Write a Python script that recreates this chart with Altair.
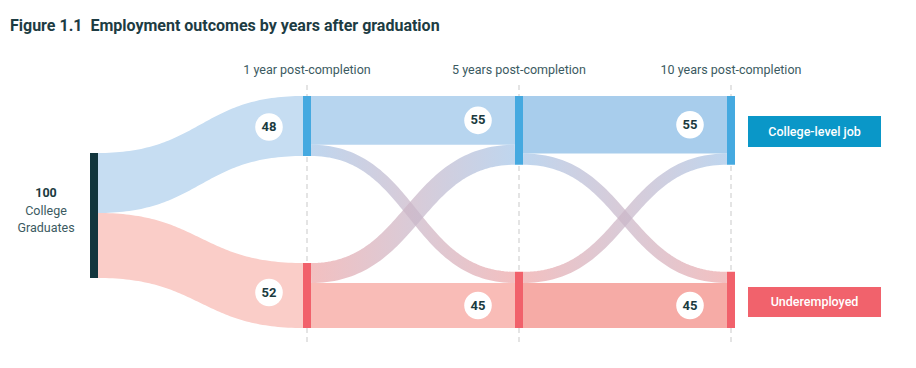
import altair as alt
import numpy as np
import pandas as pd

# ---------------- data ----------------
title_text = "Figure 1.1\u00a0\u00a0Employment outcomes by years after graduation"
source_lines = ["100", "College", "Graduates"]
source_total = 100
stages = ["1 year post-completion", "5 years post-completion", "10 years post-completion"]
categories = ["College-level job", "Underemployed"]
stage_totals = [[48, 52], [55, 45], [55, 45]]
# transitions[k][i][j]: graduates in category i at stage k who are in category j at stage k+1
transitions = [
    [[39, 9], [16, 36]],
    [[46, 9], [9, 36]],
]

# ---------------- layout / style ----------------
PX = 1.25            # pixels per graduate
SRC_X, SRC_W, SRC_TOP = 90, 8, 153
COL_X = [303, 515, 727]
NODE_W = 8
TOP, BOTTOM = 96, 328
LABEL_OFF = [34, 37, 37]

SRC_COLOR = "#12363d"
NODE_COLORS = ["#45a9e0", "#f1616b"]
SRC_BAND = ["#c6ddf2", "#facdc8"]
STAY_BAND = [["#b7d5ef", "#f9bcb7"], ["#a8cdec", "#f6aba6"]]
BOX_COLORS = ["#0a97c8", "#f1626c"]
BLUE_END, PINK_END = "#a6c6e8", "#eea7a8"
TEXT_DARK = "#1b3a40"
FONT = "Roboto"


def node_span(k, c):
    v = stage_totals[k][c] * PX
    return (TOP, TOP + v) if c == 0 else (BOTTOM - v, BOTTOM)


def shape(n=80):
    u = np.linspace(0, 1, n)
    xf = 1.5 * u * (1 - u) + u ** 3
    yf = 3 * u ** 2 - 2 * u ** 3
    return xf, yf


area_rows, line_rows = [], []


def add_area(name, x0, x1, a0, b0, a1, b1, color):
    xf, yf = shape()
    for xx, ff in zip(xf, yf):
        area_rows.append({"band": name, "x": x0 + (x1 - x0) * xx,
                          "y": a0 + (a1 - a0) * ff, "y2": b0 + (b1 - b0) * ff,
                          "c": color})


def add_line(name, direction, x0, x1, c0, c1, w):
    xf, yf = shape()
    for xx, ff in zip(xf, yf):
        line_rows.append({"band": name, "dir": direction, "x": x0 + (x1 - x0) * xx,
                          "y": c0 + (c1 - c0) * ff, "w": w})


# source -> stage 1
off = SRC_TOP
for c in range(2):
    v = stage_totals[0][c] * PX
    t0, t1 = node_span(0, c)
    add_area(f"s{c}", SRC_X + SRC_W, COL_X[0], off, off + v, t0, t1, SRC_BAND[c])
    off += v

# stage k -> k+1 : college node sends stay flow on top, under node sends cross flow on top
for k, mat in enumerate(transitions):
    x0, x1 = COL_X[k] + NODE_W, COL_X[k + 1]
    c_top = node_span(k, 0)[0]
    u_top = node_span(k, 1)[0]
    nc_top = node_span(k + 1, 0)[0]
    nu_top = node_span(k + 1, 1)[0]
    s0, x01, x10, s1 = mat[0][0] * PX, mat[0][1] * PX, mat[1][0] * PX, mat[1][1] * PX
    add_area(f"t{k}00", x0, x1, c_top, c_top + s0, nc_top, nc_top + s0, STAY_BAND[k][0])
    add_area(f"t{k}11", x0, x1, u_top + x10, u_top + x10 + s1, nu_top + x01, nu_top + x01 + s1,
             STAY_BAND[k][1])
    add_line(f"t{k}01", "down", x0, x1, c_top + s0 + x01 / 2, nu_top + x01 / 2, x01)
    add_line(f"t{k}10", "up", x0, x1, u_top + x10 / 2, nc_top + s0 + x10 / 2, x10)

areas = pd.DataFrame(area_rows)
lines = pd.DataFrame(line_rows)

# nodes
node_rows = [{"x": SRC_X, "x2": SRC_X + SRC_W, "y": SRC_TOP,
              "y2": SRC_TOP + source_total * PX, "c": SRC_COLOR}]
label_rows = []
for k in range(3):
    for c in range(2):
        y0, y1 = node_span(k, c)
        node_rows.append({"x": COL_X[k], "x2": COL_X[k] + NODE_W, "y": y0, "y2": y1,
                          "c": NODE_COLORS[c]})
        if k == 0:
            ly = (y0 + y1) / 2 + (1 if c == 0 else -3)
        else:
            stay = transitions[k - 1][c][c] * PX
            ly = y0 + stay / 2 if c == 0 else y1 - stay / 2
        label_rows.append({"x": COL_X[k] - LABEL_OFF[k], "y": ly,
                           "t": str(stage_totals[k][c])})
nodes = pd.DataFrame(node_rows)
labels = pd.DataFrame(label_rows)

heads = pd.DataFrame({"x": [cx + NODE_W / 2 for cx in COL_X], "y": [70] * 3, "t": stages})
guides = pd.DataFrame({"x": [cx + NODE_W / 2 for cx in COL_X], "y": [85] * 3, "y2": [345] * 3})
src_text = pd.DataFrame({"x": [46] * 3, "y": [193, 211, 228], "t": source_lines,
                         "wt": ["bold", "normal", "normal"]})
boxes = pd.DataFrame({"x": [748, 748], "x2": [881, 881], "y": [116, 287], "y2": [147, 317],
                      "c": BOX_COLORS, "t": categories})
boxes["ty"] = (boxes["y"] + boxes["y2"]) / 2
boxes["tx"] = (boxes["x"] + boxes["x2"]) / 2
title_df = pd.DataFrame({"x": [10], "y": [31], "t": [title_text]})

X = lambda f="x": alt.X(f"{f}:Q", scale=alt.Scale(domain=[8, 908], nice=False, zero=False), axis=None)
Y = lambda f="y": alt.Y(f"{f}:Q", scale=alt.Scale(domain=[8, 360], nice=False, zero=False, reverse=True), axis=None)


def grad(c0, c1):
    return alt.Gradient(gradient="linear", x1=0, x2=1, y1=0, y2=0,
                        stops=[alt.GradientStop(color=c0, offset=0),
                               alt.GradientStop(color=c1, offset=1)])


band_layer = alt.Chart(areas).mark_area(opacity=1).encode(
    x=X(), y=Y(), y2="y2:Q", color=alt.Color("c:N", scale=None), detail="band:N")

down_layer = alt.Chart(lines[lines["dir"] == "down"]).mark_line(
    stroke=grad(BLUE_END, PINK_END), opacity=0.72, strokeCap="butt").encode(
    x=X(), y=Y(), strokeWidth=alt.StrokeWidth("w:Q", scale=None), detail="band:N")
up_layer = alt.Chart(lines[lines["dir"] == "up"]).mark_line(
    stroke=grad(PINK_END, BLUE_END), opacity=0.72, strokeCap="butt").encode(
    x=X(), y=Y(), strokeWidth=alt.StrokeWidth("w:Q", scale=None), detail="band:N")

guide_layer = alt.Chart(guides).mark_rule(color="#c9c9c9", strokeDash=[5, 4], strokeWidth=1).encode(
    x=X(), y=Y(), y2="y2:Q")

node_layer = alt.Chart(nodes).mark_rect().encode(
    x=X(), x2="x2:Q", y=Y(), y2="y2:Q", color=alt.Color("c:N", scale=None))

circle_layer = alt.Chart(labels).mark_circle(size=760, color="white", opacity=1).encode(x=X(), y=Y())
num_layer = alt.Chart(labels).mark_text(font=FONT, fontSize=13, fontWeight="bold",
                                        color=TEXT_DARK).encode(x=X(), y=Y(), text="t:N")

head_layer = alt.Chart(heads).mark_text(font=FONT, fontSize=12.5, color="#3b5a61").encode(
    x=X(), y=Y(), text="t:N")

src_layer_b = alt.Chart(src_text[src_text["wt"] == "bold"]).mark_text(
    font=FONT, fontSize=12.5, fontWeight="bold", color=TEXT_DARK).encode(x=X(), y=Y(), text="t:N")
src_layer_n = alt.Chart(src_text[src_text["wt"] == "normal"]).mark_text(
    font=FONT, fontSize=12.5, color="#3b5a61").encode(x=X(), y=Y(), text="t:N")

box_layer = alt.Chart(boxes).mark_rect().encode(
    x=X(), x2="x2:Q", y=Y(), y2="y2:Q", color=alt.Color("c:N", scale=None))
box_text = alt.Chart(boxes).mark_text(font=FONT, fontSize=12.5, fontWeight=500, color="white").encode(
    x=X("tx"), y=Y("ty"), text="t:N")

title_layer = alt.Chart(title_df).mark_text(font=FONT, fontSize=16, fontWeight="bold", align="left",
                                            baseline="alphabetic", color="#1d3c43").encode(
    x=X(), y=Y(), text="t:N")

chart = alt.layer(
    guide_layer, band_layer, down_layer, up_layer, node_layer, circle_layer, num_layer,
    head_layer, src_layer_b, src_layer_n, box_layer, box_text, title_layer
).properties(
    width=900, height=352, padding=0, autosize=alt.AutoSizeParams(type="none"),
    background="white"
).configure_view(stroke=None)

chart.save("out.html", embed_options={"renderer": "svg", "actions": False})
